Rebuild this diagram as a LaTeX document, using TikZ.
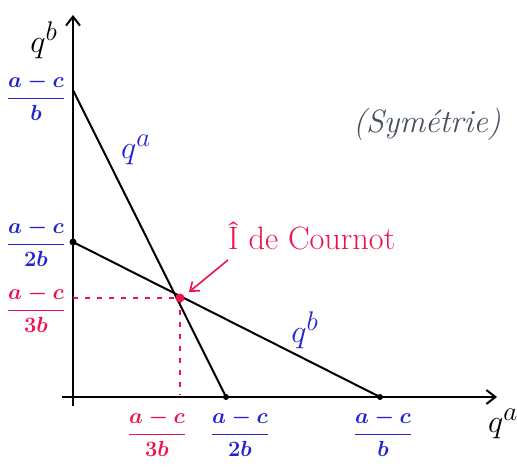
\documentclass[tikz,border=0pt]{standalone}
\usepackage{amsmath}
\usepackage{graphicx}
\usetikzlibrary{arrows.meta}
\definecolor{hblue}{RGB}{35,35,205}
\definecolor{hred}{RGB}{235,20,75}
\definecolor{hgray}{RGB}{70,80,95}
\newcommand{\hfrc}[2]{\scalebox{0.88}{\Huge\boldmath$\dfrac{#1}{#2}$}}
\newcommand{\hbig}[1]{\scalebox{1.3}{\Huge #1}}
\tikzset{
  axis/.style={line width=2pt, -{Straight Barb[length=9pt,width=14pt,line width=2pt]}},
  curve/.style={line width=2pt},
  guide/.style={hred, line width=1.2pt, dash pattern=on 5pt off 7pt},
  lab/.style={inner sep=0pt},
}
\begin{document}
\begin{tikzpicture}[x=1pt,y=-1pt]
\useasboundingbox (0,0) rectangle (517,468);
% axes
\coordinate (O) at (73,397);
\coordinate (ytop) at (73,15);
\coordinate (ybot) at (73,406);
\coordinate (xl) at (62,397);
\coordinate (xr) at (497,397);
\draw[axis] (ybot) -- (ytop);
\draw[axis] (xl) -- (xr);
% key points
\coordinate (A1) at (73,90);
\coordinate (A2) at (73,242);
\coordinate (B1) at (226,397);
\coordinate (B2) at (380,397);
\coordinate (E) at (180,298);
\coordinate (Ey) at (73,298);
\coordinate (Ex) at (180,395);
\draw[guide] (Ey) -- (E);
\draw[guide] (E) -- (Ex);
\draw[curve] (A1) -- (B1);
\draw[curve] (A2) -- (B2);
\fill (A2) circle (3.5pt);
\fill (B1) circle (3pt);
\fill (B2) circle (3pt);
\fill[hred] (E) circle (4.5pt);
% axis labels
\node[lab] (qbaxis) at (44,40) {\hbig{$q^b$}};
\node[lab] (qaaxis) at (503,424) {\hbig{$q^a$}};
% y-axis fractions
\node[lab, hblue] (fy1) at (36,97) {\hfrc{a-c}{b}};
\node[lab, hblue] (fy2) at (36,243) {\hfrc{a-c}{2b}};
\node[lab, hred] (fy3) at (36,309) {\hfrc{a-c}{3b}};
% x-axis fractions
\node[lab, hred] (fx3) at (157,433) {\hfrc{a-c}{3b}};
\node[lab, hblue] (fx2) at (240,433) {\hfrc{a-c}{2b}};
\node[lab, hblue] (fx1) at (383,433) {\hfrc{a-c}{b}};
% curve labels
\node[lab, hblue] (la) at (136,150) {\hbig{$q^a$}};
\node[lab, hblue] (lb) at (305,330) {\hbig{$q^b$}};
% annotation
\node[lab, hred, anchor=west] (cour) at (228,236) {\hbig{\^{I} de Cournot}};
\coordinate (arrs) at (228,260);
\draw[hred, line width=1.6pt, -{Straight Barb[length=8pt,width=12pt,line width=1.6pt]}] (arrs) -- (189,292);
\node[lab, hgray] (sym) at (427,124) {\hbig{\itshape (Symétrie)}};
\end{tikzpicture}
\end{document}
